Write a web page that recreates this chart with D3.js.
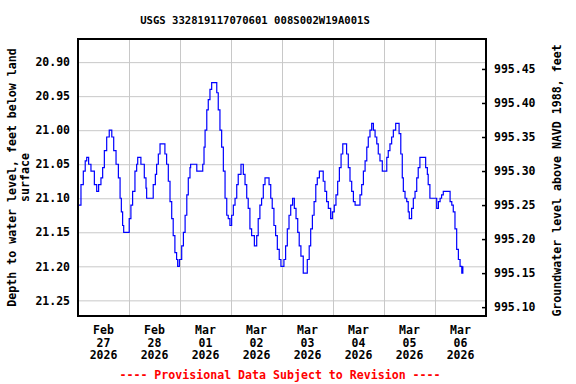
<!DOCTYPE html>
<html>
<head>
<meta charset="utf-8">
<script src="https://cdn.jsdelivr.net/npm/d3@7"></script>
<style>
  body { margin: 0; background: #fff; }
  svg { display: block; }
  text { font-family: "DejaVu Sans Mono", monospace; font-weight: bold; fill: #000; }
  .grid line { stroke: #c8c8c8; stroke-width: 1; }
  .grid path { display: none; }
</style>
</head>
<body>
<svg width="576" height="384"></svg>
<script>
// hours since Feb 27 2026 00:00, and depth to water (ft below land surface)
var hrs = [0, 1.4, 2.5, 3.4, 4.1, 5.0, 6.1, 7.7, 8.8, 9.7, 10.8, 11.6, 12.4, 13.5, 14.7, 15.9, 16.8, 17.9, 19.0, 19.8,
  20.4, 21.0, 21.5, 23.4, 24.1, 24.9, 25.7, 26.8, 27.6, 28.1, 29.6, 31.2, 32.0, 32.3, 34.8, 35.4, 36.4, 37.0, 37.8, 38.6,
  40.1, 40.9, 41.7, 42.5, 43.3, 44.1, 44.8, 45.6, 46.4, 46.9, 47.7, 48.8, 49.6, 50.4, 51.2, 51.9, 52.7, 53.0, 55.1, 55.9,
  58.2, 58.7, 59.3, 59.8, 60.6, 61.3, 62.1, 62.9, 64.5, 65.3, 66.0, 66.8, 67.6, 68.4, 69.2, 70.0, 70.7, 71.5, 72.3, 73.1,
  73.9, 74.7, 75.4, 76.7, 77.8, 78.6, 79.4, 80.1, 80.9, 81.7, 83.0, 84.1, 84.8, 85.6, 86.4, 87.2, 88.0, 89.1, 89.9, 90.7,
  91.4, 92.2, 93.0, 93.8, 94.7, 95.5, 96.3, 96.9, 97.7, 98.5, 99.3, 100.1, 101.0, 101.8, 102.6, 103.4, 104.1, 104.9, 106.0, 107.6,
  107.9, 108.8, 109.5, 110.3, 111.1, 111.9, 112.6, 113.6, 114.8, 115.4, 116.2, 117.0, 117.8, 118.9, 119.7, 120.6, 121.4, 122.2, 123.0, 123.8,
  124.6, 125.8, 126.4, 127.2, 128.0, 128.8, 129.6, 130.4, 131.9, 132.7, 133.5, 134.3, 135.1, 135.9, 136.6, 137.4, 138.2, 139.0, 139.8, 140.6,
  141.3, 142.1, 143.2, 144.9, 145.3, 146.0, 146.8, 147.6, 148.4, 149.5, 150.4, 151.1, 151.9, 152.6, 153.1, 153.9, 154.7, 155.4, 155.9, 157.0,
  157.8, 158.6, 159.4, 160.1, 160.9, 163.0, 163.6, 164.4, 164.8, 165.6, 168.0, 168.8, 169.6, 170.4, 171.1, 171.9, 174.3, 175.1, 175.9, 176.6,
  177.4, 178.2, 179.0, 179.8, 180.6, 181.1];
var depth = [21.11, 21.08, 21.06, 21.045, 21.04, 21.05, 21.06, 21.08, 21.09, 21.08, 21.07, 21.055, 21.03, 21.01, 21.00, 21.01, 21.03, 21.05, 21.07, 21.10,
  21.12, 21.14, 21.15, 21.15, 21.13, 21.11, 21.09, 21.06, 21.05, 21.04, 21.05, 21.07, 21.085, 21.10, 21.10, 21.08, 21.065, 21.05, 21.035, 21.02,
  21.02, 21.035, 21.05, 21.075, 21.105, 21.13, 21.155, 21.18, 21.19, 21.20, 21.19, 21.17, 21.15, 21.125, 21.095, 21.07, 21.055, 21.05, 21.05, 21.06,
  21.06, 21.05, 21.025, 21.00, 20.97, 20.955, 20.94, 20.93, 20.93, 20.945, 20.97, 21.00, 21.025, 21.06, 21.10, 21.125, 21.13, 21.14, 21.125, 21.11,
  21.10, 21.08, 21.065, 21.05, 21.065, 21.08, 21.10, 21.115, 21.145, 21.155, 21.17, 21.155, 21.13, 21.11, 21.10, 21.08, 21.07, 21.07, 21.08, 21.10,
  21.115, 21.14, 21.155, 21.175, 21.19, 21.20, 21.20, 21.19, 21.17, 21.145, 21.125, 21.11, 21.10, 21.115, 21.13, 21.15, 21.17, 21.185, 21.21, 21.21,
  21.19, 21.17, 21.145, 21.125, 21.105, 21.08, 21.07, 21.06, 21.06, 21.075, 21.09, 21.105, 21.115, 21.13, 21.12, 21.11, 21.095, 21.075, 21.055, 21.035,
  21.02, 21.02, 21.035, 21.055, 21.075, 21.09, 21.105, 21.11, 21.11, 21.095, 21.08, 21.06, 21.045, 21.025, 21.01, 21.00, 20.99, 21.00, 21.01, 21.02,
  21.035, 21.045, 21.06, 21.06, 21.04, 21.03, 21.02, 21.01, 21.00, 20.99, 20.99, 21.005, 21.035, 21.07, 21.09, 21.10, 21.105, 21.12, 21.13, 21.115,
  21.10, 21.09, 21.07, 21.055, 21.04, 21.04, 21.055, 21.065, 21.08, 21.10, 21.10, 21.115, 21.105, 21.10, 21.095, 21.09, 21.09, 21.105, 21.11, 21.12,
  21.145, 21.175, 21.19, 21.20, 21.21, 21.20];

var depthTicks = [20.90, 20.95, 21.00, 21.05, 21.10, 21.15, 21.20, 21.25];
var elevTicks = [995.45, 995.40, 995.35, 995.30, 995.25, 995.20, 995.15, 995.10];
var dayLabels = [["Feb", "27", "2026"], ["Feb", "28", "2026"], ["Mar", "01", "2026"], ["Mar", "02", "2026"],
  ["Mar", "03", "2026"], ["Mar", "04", "2026"], ["Mar", "05", "2026"], ["Mar", "06", "2026"]];
var datum = 1016.36; // land surface elevation, NAVD 1988

var svg = d3.select("svg");
var margin = { top: 39, right: 90, bottom: 68, left: 78 };
var width = 576 - margin.left - margin.right;
var height = 384 - margin.top - margin.bottom;

var start = new Date(2026, 1, 27);
var toDate = function (h) { return new Date(start.getTime() + h * 3600000); };

// Scales
var x = d3.scaleTime()
  .domain([start, toDate(24 * dayLabels.length)])
  .range([0, width]);

var yDomain = [20.866, 21.273];
var y = d3.scaleLinear().domain(yDomain).range([0, height]);
var y2 = d3.scaleLinear().domain([datum - yDomain[0], datum - yDomain[1]]).range([0, height]);

var g = svg.append("g").attr("transform", "translate(" + margin.left + "," + margin.top + ")");

// grid
g.append("g")
  .attr("class", "grid")
  .call(d3.axisLeft(y).tickValues(depthTicks).tickSize(-width).tickFormat(""));

g.append("g")
  .attr("class", "grid")
  .attr("transform", "translate(0," + height + ")")
  .call(d3.axisBottom(x).tickValues(d3.range(1, dayLabels.length).map(function (i) { return toDate(24 * i); }))
    .tickSize(height).tickFormat(""))
  .selectAll("line").attr("transform", "translate(0," + (-height) + ")");

// left axis labels
var left = g.append("g").call(d3.axisLeft(y).tickValues(depthTicks).tickSize(0).tickPadding(8).tickFormat(d3.format(".2f")));
left.select(".domain").remove();
left.selectAll("text").style("font-size", "11.5px").style("font-family", null);

// right axis, ticks pointing inward
var right = g.append("g")
  .attr("transform", "translate(" + width + ",0)")
  .call(d3.axisRight(y2).tickValues(elevTicks).tickSize(-4).tickPadding(8).tickFormat(d3.format(".2f")));
right.select(".domain").remove();
right.selectAll("line").attr("stroke", "#000").attr("stroke-width", 1.5);
right.selectAll("text").style("font-size", "11.5px").style("font-family", null);

// data line
var line = d3.line()
  .x(function (d) { return x(toDate(d[0])); })
  .y(function (d) { return y(d[1]); })
  .curve(d3.curveStepAfter);

g.append("path")
  .datum(d3.zip(hrs, depth))
  .attr("fill", "none")
  .attr("stroke", "#0000ff")
  .attr("stroke-width", 1.2)
  .attr("d", line);

// frame
g.append("rect")
  .attr("width", width).attr("height", height)
  .attr("fill", "none").attr("stroke", "#000").attr("stroke-width", 2);

// date labels, centred on each day
dayLabels.forEach(function (lab, i) {
  var t = g.append("text")
    .attr("x", x(toDate(24 * i + 12)))
    .attr("y", height + 18)
    .attr("text-anchor", "middle")
    .style("font-size", "11.5px");
  lab.forEach(function (s, j) {
    t.append("tspan").attr("x", x(toDate(24 * i + 12))).attr("dy", j == 0 ? 0 : 12.7).text(s);
  });
});

// title
svg.append("text")
  .attr("x", 255).attr("y", 24)
  .attr("text-anchor", "middle")
  .style("font-size", "10.6px")
  .text("USGS 332819117070601 008S002W19A001S");

// axis titles
svg.append("text")
  .attr("transform", "translate(16," + (margin.top + height / 2) + ") rotate(-90)")
  .attr("text-anchor", "middle")
  .style("font-size", "11.6px")
  .text("Depth to water level, feet below land");
svg.append("text")
  .attr("transform", "translate(29," + (margin.top + height / 2) + ") rotate(-90)")
  .attr("text-anchor", "middle")
  .style("font-size", "11.6px")
  .text("surface");
svg.append("text")
  .attr("transform", "translate(561," + (margin.top + height / 2 + 3) + ") rotate(-90)")
  .attr("text-anchor", "middle")
  .style("font-size", "11.6px")
  .text("Groundwater level above NAVD 1988, feet");

// provisional note
svg.append("text")
  .attr("x", 280).attr("y", 379)
  .attr("text-anchor", "middle")
  .style("font-size", "11.6px")
  .style("fill", "#ff0000")
  .text("---- Provisional Data Subject to Revision ----");
</script>
</body>
</html>
